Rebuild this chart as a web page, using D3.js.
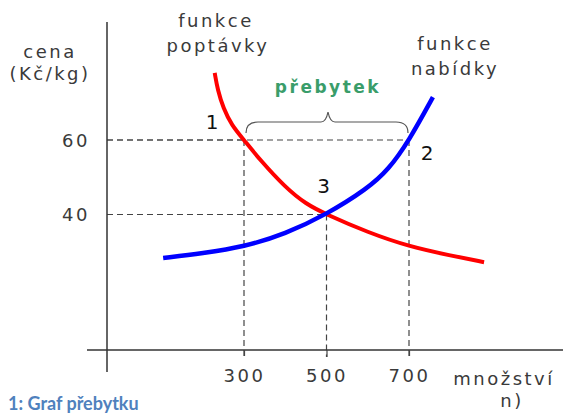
<!DOCTYPE html>
<html>
<head>
<meta charset="utf-8">
<script src="https://cdn.jsdelivr.net/npm/d3@7"></script>
<style>
  body { margin: 0; background: #fff; }
  svg { display: block; }
  .lbl { font-family: "DejaVu Sans", sans-serif; font-size: 18px; fill: #3a3a3a; letter-spacing: 2.5px; }
</style>
</head>
<body>
<svg id="chart" width="563" height="414"></svg>
<script>
// quantity / price readings
const demandQ = [229, 236, 250, 270, 300, 340, 400, 450, 500, 600, 700, 800, 882];
const demandP = [78, 73.5, 68.5, 64, 60, 54.5, 47.3, 42.8, 40, 35.2, 31.4, 29, 27.2];
const supplyQ = [104, 200, 300, 400, 500, 600, 650, 700, 758];
const supplyP = [28.3, 29.6, 31.3, 34.8, 40, 47, 52, 59.8, 71.5];

const xTicks = [300, 500, 700];
const yTicks = [40, 60];
// marked points: 1, 2 (surplus ends) and 3 (equilibrium)
const points = [
  { name: "1", q: 300, p: 60 },
  { name: "2", q: 700, p: 60 },
  { name: "3", q: 500, p: 40 }
];

const svg = d3.select("#chart");

const x = d3.scaleLinear().domain([300, 700]).range([244, 409]);
const y = d3.scaleLinear().domain([40, 60]).range([214.5, 140]);

const axisX = 107, axisY = 350;

// dashed guide lines
const guide = svg.append("g")
  .attr("stroke", "#444")
  .attr("stroke-width", 1.2)
  .attr("stroke-dasharray", "6,4")
  .attr("fill", "none");

points.forEach(d => {
  guide.append("line")
    .attr("x1", axisX).attr("x2", x(d.q))
    .attr("y1", y(d.p)).attr("y2", y(d.p));
  guide.append("line")
    .attr("x1", x(d.q)).attr("x2", x(d.q))
    .attr("y1", y(d.p)).attr("y2", axisY + 7);
});

// axes
svg.append("line")
  .attr("x1", axisX).attr("x2", axisX)
  .attr("y1", 22).attr("y2", 372)
  .attr("stroke", "#333").attr("stroke-width", 1.5);
svg.append("line")
  .attr("x1", 87).attr("x2", 563)
  .attr("y1", axisY).attr("y2", axisY)
  .attr("stroke", "#333").attr("stroke-width", 1.5);

const xAxis = svg.append("g")
  .attr("transform", `translate(0,${axisY})`)
  .call(d3.axisBottom(x).tickValues(xTicks).tickSize(7).tickPadding(24).tickFormat(d3.format("d")));
xAxis.select(".domain").remove();
xAxis.selectAll(".tick line").attr("stroke", "#444").attr("stroke-width", 1.2)
  .attr("stroke-dasharray", d => d === 500 ? null : "6,4");
xAxis.selectAll("text").attr("class", "lbl").attr("fill", null)
  .attr("dy", "0.05em").attr("font-size", null).attr("font-family", null);

const yAxis = svg.append("g")
  .attr("transform", `translate(${axisX},0)`)
  .call(d3.axisLeft(y).tickValues(yTicks).tickSize(0).tickPadding(17));
yAxis.select(".domain").remove();
yAxis.selectAll("text").attr("class", "lbl").attr("fill", null)
  .attr("font-size", null).attr("font-family", null).attr("dy", "0.36em");

// curves
const line = d3.line()
  .x(d => x(d[0]))
  .y(d => y(d[1]))
  .curve(d3.curveBasis);

svg.append("path")
  .datum(demandQ.map((q, i) => [q, demandP[i]]))
  .attr("d", line)
  .attr("fill", "none")
  .attr("stroke", "#ff0000")
  .attr("stroke-width", 4);

svg.append("path")
  .datum(supplyQ.map((q, i) => [q, supplyP[i]]))
  .attr("d", line)
  .attr("fill", "none")
  .attr("stroke", "#0000ff")
  .attr("stroke-width", 4.5);

// brace over the surplus
const bx0 = x(300) + 2, bx1 = x(700) - 1, bm = (bx0 + bx1) / 2 + 1;
const by = y(60) - 18, bb = y(60) - 7;
svg.append("path")
  .attr("d", `M${bx0},${bb} Q${bx0},${by} ${bx0 + 12},${by} L${bm - 7},${by} Q${bm - 2},${by} ${bm},${by - 10}` +
             ` Q${bm + 2},${by} ${bm + 7},${by} L${bx1 - 12},${by} Q${bx1},${by} ${bx1},${bb}`)
  .attr("fill", "none")
  .attr("stroke", "#555")
  .attr("stroke-width", 1.2);

svg.append("text")
  .attr("x", bm)
  .attr("y", 93)
  .attr("text-anchor", "middle")
  .attr("font-family", "DejaVu Sans, sans-serif")
  .attr("font-weight", "bold")
  .attr("font-size", 17)
  .attr("letter-spacing", "2.5px")
  .attr("fill", "#3a9d6a")
  .text("přebytek");

// point numbers
const numPos = { "1": [-32, -11], "2": [18, 20], "3": [-3, -22] };
svg.selectAll(".num")
  .data(points)
  .join("text")
  .attr("class", "num")
  .attr("x", d => x(d.q) + numPos[d.name][0])
  .attr("y", d => y(d.p) + numPos[d.name][1])
  .attr("text-anchor", "middle")
  .attr("font-family", "DejaVu Sans, sans-serif")
  .attr("font-size", 20)
  .attr("fill", "#111")
  .text(d => d.name);

// labels
const labels = [
  { t: "cena", x: 50, y: 58 },
  { t: "(Kč/kg)", x: 50, y: 80 },
  { t: "funkce", x: 216, y: 27 },
  { t: "poptávky", x: 218, y: 52 },
  { t: "funkce", x: 455, y: 50 },
  { t: "nabídky", x: 455, y: 75 },
  { t: "množství", x: 504, y: 385 },
  { t: "n)", x: 512, y: 407 }
];
svg.selectAll(".lab")
  .data(labels)
  .join("text")
  .attr("class", "lbl")
  .attr("x", d => d.x)
  .attr("y", d => d.y)
  .attr("text-anchor", "middle")
  .text(d => d.t);

svg.append("text")
  .attr("x", 8)
  .attr("y", 410)
  .attr("font-family", "Lato, sans-serif")
  .attr("font-weight", "bold")
  .attr("font-size", 18)
  .attr("fill", "#4f81bd")
  .text("1: Graf přebytku");
</script>
</body>
</html>
